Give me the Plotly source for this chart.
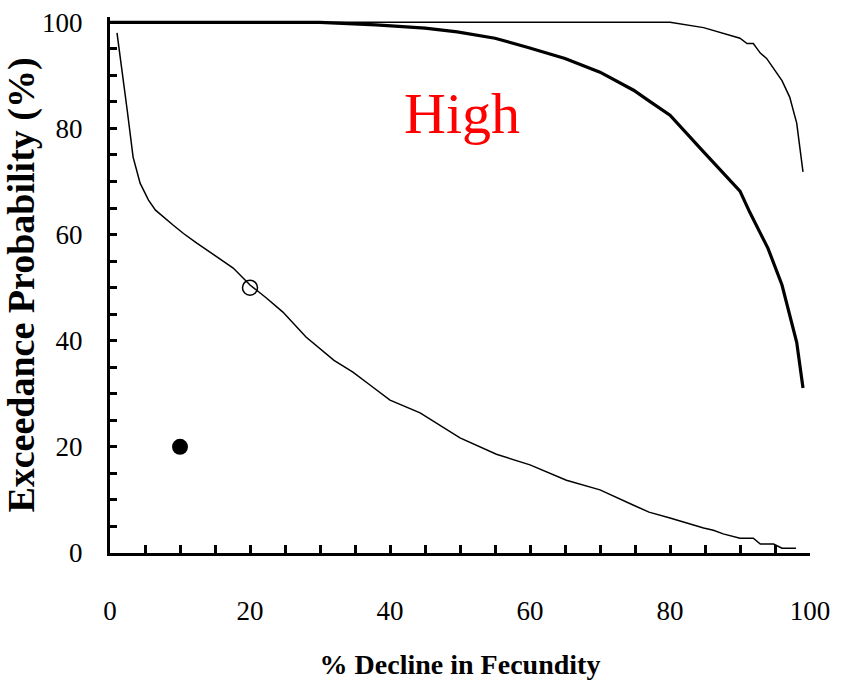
import plotly.graph_objects as go

# Lower (thin) exceedance curve
low_x = [1, 1.9, 2.5, 3.3, 4.3, 5.5, 6.5, 9, 10.5, 12.4, 14, 17.6, 20, 22.3, 24.7, 28, 32,
         34.7, 37, 40, 44.3, 47, 50, 55.2, 60, 65.2, 70, 74.8, 77, 80, 84.8, 86.2, 87.6,
         90, 91.9, 92.9, 94.8, 96, 98]
low_y = [98, 89.6, 83, 74.6, 69.7, 66.5, 64.6, 61.8, 60.2, 58.4, 57, 53.7, 50.5, 48.1, 45.4,
         40.7, 36.3, 34.1, 31.8, 28.8, 26.4, 24.1, 21.7, 18.6, 16.6, 13.7, 11.9, 9.0, 7.7,
         6.6, 4.7, 4.3, 3.6, 2.8, 2.8, 1.7, 1.7, 0.9, 0.9]

# Middle (thick) exceedance curve
mid_x = [0, 30, 38, 45, 49.6, 55, 59.6, 65, 70, 74.8, 77.1, 80, 84.5, 90, 91.4, 94, 96, 98.1, 99]
mid_y = [100, 100, 99.5, 98.9, 98.2, 97.0, 95.3, 93.2, 90.6, 87.2, 85.1, 82.5, 76.0, 68.2,
         64.2, 57.4, 50.5, 39.7, 31.1]

# Upper (thin) exceedance curve
up_x = [0, 80, 84.8, 90, 91, 91.9, 92.9, 93.8, 96, 97.1, 98.1, 99]
up_y = [100, 100, 99, 97, 96, 96, 94.2, 93.2, 89, 85.9, 81, 71.8]

# Point markers
filled_x, filled_y = [10], [20]
open_x, open_y = [20], [50]

x_ticks = [0, 20, 40, 60, 80, 100]
y_ticks = [0, 20, 40, 60, 80, 100]

FONT = "Liberation Serif, Times New Roman, serif"

fig = go.Figure()
fig.add_trace(go.Scatter(x=up_x, y=up_y, mode="lines",
                         line=dict(color="black", width=1.5), showlegend=False))
fig.add_trace(go.Scatter(x=mid_x, y=mid_y, mode="lines",
                         line=dict(color="black", width=3.2), showlegend=False))
fig.add_trace(go.Scatter(x=low_x, y=low_y, mode="lines",
                         line=dict(color="black", width=1.5), showlegend=False))
fig.add_trace(go.Scatter(x=filled_x, y=filled_y, mode="markers",
                         marker=dict(symbol="circle", size=16, color="black"),
                         showlegend=False))
fig.add_trace(go.Scatter(x=open_x, y=open_y, mode="markers",
                         marker=dict(symbol="circle-open", size=15, color="black",
                                     line=dict(width=1.5)),
                         showlegend=False))

fig.add_annotation(x=50.3, y=82.9, text="High", showarrow=False,
                   font=dict(family=FONT, size=58, color="#FF0000"))

fig.update_layout(
    width=842, height=688,
    margin=dict(l=110, r=32, t=17, b=135),
    paper_bgcolor="white", plot_bgcolor="white",
    font=dict(family=FONT, color="black"),
)
fig.update_xaxes(
    range=[0, 100], showgrid=False, zeroline=False, automargin=False,
    showline=True, linecolor="black", linewidth=3,
    ticks="inside", tickwidth=2.5, ticklen=8, tickcolor="black",
    tickmode="array",
    tickvals=[v for v in range(0, 101, 5)],
    ticktext=[str(v) if v in x_ticks else "" for v in range(0, 101, 5)],
    showticklabels=True,
    tickfont=dict(family=FONT, size=27, color="black"),
    ticklabelstandoff=32,
    title=dict(text="<b>% Decline in Fecundity</b>",
               font=dict(family=FONT, size=28, color="black"), standoff=29),
)
fig.update_yaxes(
    range=[0, 101], showgrid=False, zeroline=False, automargin=False,
    showline=True, linecolor="black", linewidth=3,
    ticks="inside", tickwidth=3, ticklen=7, tickcolor="black",
    tickmode="array",
    tickvals=[v for v in range(0, 101, 5)],
    ticktext=[str(v) if v in y_ticks else "" for v in range(0, 101, 5)],
    tickfont=dict(family=FONT, size=27, color="black"),
    ticklabelstandoff=19,
    title=dict(text="<b>Exceedance Probability (%)</b>",
               font=dict(family=FONT, size=38, color="black"), standoff=0),
)

fig.write_html("out.html")
